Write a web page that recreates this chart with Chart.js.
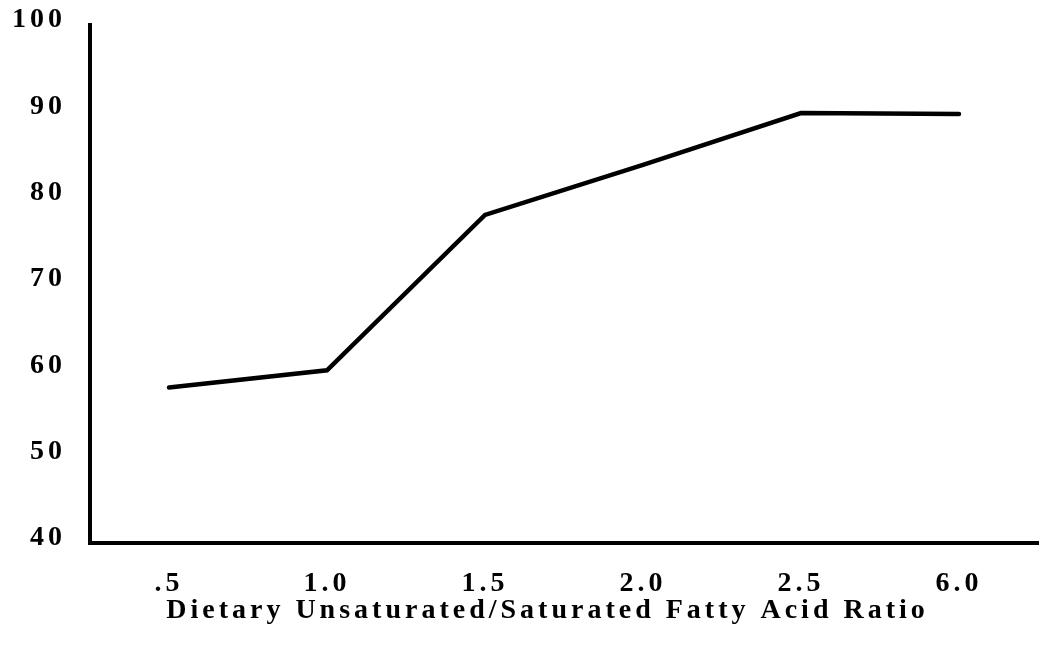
<!DOCTYPE html>
<html>
<head>
<meta charset="utf-8">
<script src="https://cdn.jsdelivr.net/npm/chart.js@4"></script>
<style>
  html, body { margin: 0; padding: 0; background: #fff; }
  #wrap { width: 1040px; height: 654px; }
</style>
</head>
<body>
<div id="wrap"><canvas id="chart" width="1040" height="654"></canvas></div>
<script>
// ratio categories along the x axis
const ratioLabels = ['.5', '1.0', '1.5', '2.0', '2.5', '6.0'];
// values
const ratioValues = [58.0, 60.0, 78.0, 83.8, 89.8, 89.7];
// y axis range
const yMin = 40;
const yMax = 100;
const yStep = 10;

const fontFamily = '"Liberation Serif", "Times New Roman", serif';

// canvas has no css letter-spacing, set it on the context directly
const spacingPlugin = {
  id: 'spacing',
  beforeLayout(chart) { chart.ctx.letterSpacing = '4px'; },
  beforeDraw(chart) { chart.ctx.letterSpacing = '4px'; }
};

const ctx = document.getElementById('chart').getContext('2d');
new Chart(ctx, {
  type: 'line',
  data: {
    labels: ratioLabels,
    datasets: [{
      data: ratioValues,
      borderColor: '#000',
      borderWidth: 4.5,
      borderCapStyle: 'round',
      borderJoinStyle: 'miter',
      pointRadius: 0,
      tension: 0,
      fill: false
    }]
  },
  options: {
    responsive: false,
    animation: false,
    layout: { padding: { left: 0, right: 2, top: 25, bottom: 0 } },
    plugins: {
      legend: { display: false },
      tooltip: { enabled: false }
    },
    scales: {
      x: {
        offset: true,
        grid: { display: false, drawTicks: false },
        border: { display: true, color: '#000', width: 4 },
        ticks: {
          color: '#000',
          padding: 24,
          maxRotation: 0,
          font: { family: fontFamily, size: 28, weight: 'bold' }
        },
        title: {
          display: true,
          // trailing spaces nudge the centred title a bit to the left like the original
          text: 'Dietary Unsaturated/Saturated Fatty Acid Ratio   ',
          color: '#000',
          font: { family: fontFamily, size: 28, weight: 'bold' },
          padding: { top: 10, bottom: 26 }
        },
        afterFit(scale) {
          scale.height = 111;
          scale.paddingLeft = 0;
          scale.paddingRight = 0;
        }
      },
      y: {
        min: yMin,
        max: yMax,
        grid: { display: false, drawTicks: false },
        border: { display: true, color: '#000', width: 4 },
        ticks: {
          stepSize: yStep,
          color: '#000',
          padding: 24,
          labelOffset: -5,
          font: { family: fontFamily, size: 28, weight: 'bold' }
        },
        afterFit(scale) {
          scale.width = 90;
          scale.paddingTop = 0;
          scale.paddingBottom = 0;
        }
      }
    }
  },
  plugins: [spacingPlugin]
});
</script>
</body>
</html>
